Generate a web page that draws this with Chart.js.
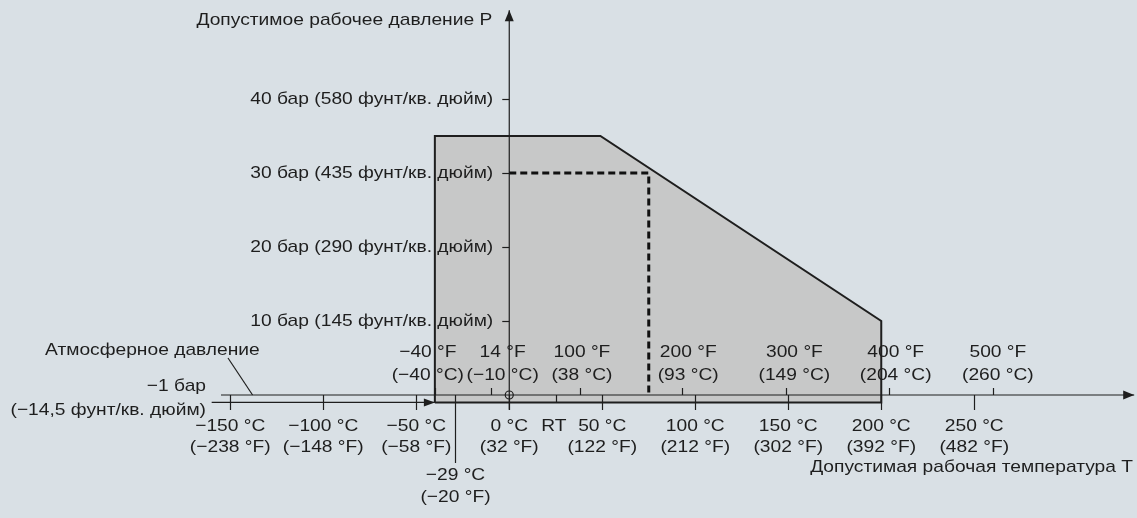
<!DOCTYPE html>
<html>
<head>
<meta charset="utf-8">
<script src="https://cdn.jsdelivr.net/npm/chart.js@4"></script>
<style>
  html, body { margin: 0; padding: 0; background: #d9e0e5; }
  canvas { display: block; }
</style>
</head>
<body>
<canvas id="chart" width="1137" height="518"></canvas>
<script>
// temperature ticks in degC (below axis)
const celsiusTicks = [-150, -100, -50, 0, 50, 100, 150, 200, 250]
const celsiusRow1 = ["\u2212150 \u00b0C", "\u2212100 \u00b0C", "\u221250 \u00b0C", "0 \u00b0C", "50 \u00b0C", "100 \u00b0C", "150 \u00b0C", "200 \u00b0C", "250 \u00b0C"]
const celsiusRow2 = ["(\u2212238 \u00b0F)", "(\u2212148 \u00b0F)", "(\u221258 \u00b0F)", "(32 \u00b0F)", "(122 \u00b0F)", "(212 \u00b0F)", "(302 \u00b0F)", "(392 \u00b0F)", "(482 \u00b0F)"]

// fahrenheit ticks, placed at their degC value (above axis)
const fahrenheitTicks = [-40, -10, 38, 93, 149, 204, 260]
const fahrenheitRow1 = ["\u221240 \u00b0F", "14 \u00b0F", "100 \u00b0F", "200 \u00b0F", "300 \u00b0F", "400 \u00b0F", "500 \u00b0F"]
const fahrenheitRow2 = ["(\u221240 \u00b0C)", "(\u221210 \u00b0C)", "(38 \u00b0C)", "(93 \u00b0C)", "(149 \u00b0C)", "(204 \u00b0C)", "(260 \u00b0C)"]

// pressure ticks in bar
const pressureTicks = [10, 20, 30, 40]
const pressureLabels = ["10 \u0431\u0430\u0440 (145 \u0444\u0443\u043d\u0442/\u043a\u0432. \u0434\u044e\u0439\u043c)", "20 \u0431\u0430\u0440 (290 \u0444\u0443\u043d\u0442/\u043a\u0432. \u0434\u044e\u0439\u043c)", "30 \u0431\u0430\u0440 (435 \u0444\u0443\u043d\u0442/\u043a\u0432. \u0434\u044e\u0439\u043c)", "40 \u0431\u0430\u0440 (580 \u0444\u0443\u043d\u0442/\u043a\u0432. \u0434\u044e\u0439\u043c)"]

// permitted operating envelope
const envelopeTemp = [-40, -40, 49, 200, 200, -40]
const envelopePress = [-1, 35, 35, 10, -1, -1]

// rated point (dashed)
const ratedTemp = [0, 75, 75]
const ratedPress = [30, 30, 0]

const minTemp = -29
const roomTemp = 25
const axisTemp = [-155, 336]
const axisPress = [-2, 52]
const vacuumTemp = [-160, -40]

const font = "17px 'Liberation Sans', Arial, sans-serif"
const stretch = 1.13
const ink = "#1e1e1e"
// label nudges (px) for the fahrenheit row so neighbours don't collide
const fahrenheitShift = [-7, 12, 2, 6, 8, 7, 5]

function pts(xs, ys) {
  return xs.map((x, i) => ({x: x, y: ys[i]}))
}

function label(ctx, text, x, y, align) {
  ctx.save()
  ctx.translate(x, y)
  ctx.scale(stretch, 1)
  ctx.textAlign = align
  ctx.fillText(text, 0, 0)
  ctx.restore()
}

const overlay = {
  id: "overlay",
  beforeDatasetsDraw(chart) {
    // envelope fill
    const ctx = chart.ctx
    const xs = chart.scales.x
    const ys = chart.scales.y
    ctx.save()
    ctx.fillStyle = "#c7c8c8"
    ctx.beginPath()
    envelopeTemp.forEach((t, i) => {
      const px = xs.getPixelForValue(t)
      const py = ys.getPixelForValue(envelopePress[i])
      if (i == 0) ctx.moveTo(px, py)
      else ctx.lineTo(px, py)
    })
    ctx.closePath()
    ctx.fill()
    ctx.restore()
  },
  afterDatasetsDraw(chart) {
    const ctx = chart.ctx
    const xs = chart.scales.x
    const ys = chart.scales.y
    const y0 = ys.getPixelForValue(0)
    const x0 = xs.getPixelForValue(0)
    ctx.save()
    ctx.strokeStyle = ink
    ctx.fillStyle = ink
    ctx.lineWidth = 1.2

    // degC ticks
    celsiusTicks.forEach(t => {
      const px = Math.round(xs.getPixelForValue(t)) + 0.5
      ctx.beginPath(); ctx.moveTo(px, y0); ctx.lineTo(px, y0 + 15); ctx.stroke()
    })
    // RT tick
    let rx = Math.round(xs.getPixelForValue(roomTemp)) + 0.5
    ctx.beginPath(); ctx.moveTo(rx, y0); ctx.lineTo(rx, y0 + 8); ctx.stroke()
    // degF ticks
    fahrenheitTicks.forEach(t => {
      const px = Math.round(xs.getPixelForValue(t)) + 0.5
      ctx.beginPath(); ctx.moveTo(px, y0); ctx.lineTo(px, y0 - 7); ctx.stroke()
    })
    // -29 marker
    let mx = Math.round(xs.getPixelForValue(minTemp)) + 0.5
    ctx.beginPath(); ctx.moveTo(mx, y0); ctx.lineTo(mx, y0 + 68); ctx.stroke()
    // pressure ticks
    pressureTicks.forEach(p => {
      const py = Math.round(ys.getPixelForValue(p)) + 0.5
      ctx.beginPath(); ctx.moveTo(x0 - 7, py); ctx.lineTo(x0, py); ctx.stroke()
    })
    // origin circle
    ctx.beginPath(); ctx.arc(x0, y0, 4, 0, Math.PI * 2); ctx.stroke()

    // arrow heads
    const ax = xs.getPixelForValue(axisTemp[1])
    ctx.beginPath(); ctx.moveTo(ax, y0); ctx.lineTo(ax - 11, y0 - 4.5); ctx.lineTo(ax - 11, y0 + 4.5); ctx.closePath(); ctx.fill()
    const ay = ys.getPixelForValue(axisPress[1])
    ctx.beginPath(); ctx.moveTo(x0, ay); ctx.lineTo(x0 - 4.5, ay + 11); ctx.lineTo(x0 + 4.5, ay + 11); ctx.closePath(); ctx.fill()
    const vx = xs.getPixelForValue(vacuumTemp[1])
    const vy = ys.getPixelForValue(-1)
    ctx.beginPath(); ctx.moveTo(vx, vy); ctx.lineTo(vx - 11, vy - 4); ctx.lineTo(vx - 11, vy + 4); ctx.closePath(); ctx.fill()

    // pointer for atmospheric pressure
    ctx.beginPath(); ctx.moveTo(228, 358); ctx.lineTo(xs.getPixelForValue(-138), y0); ctx.stroke()

    // text
    ctx.font = font
    ctx.textBaseline = "middle"
    celsiusTicks.forEach((t, i) => {
      const px = xs.getPixelForValue(t)
      label(ctx, celsiusRow1[i], px, y0 + 31, "center")
      label(ctx, celsiusRow2[i], px, y0 + 52, "center")
    })
    label(ctx, "RT", xs.getPixelForValue(roomTemp) - 2, y0 + 31, "center")
    fahrenheitTicks.forEach((t, i) => {
      const px = xs.getPixelForValue(t) + fahrenheitShift[i]
      label(ctx, fahrenheitRow1[i], px, y0 - 43, "center")
      label(ctx, fahrenheitRow2[i], px, y0 - 20, "center")
    })
    label(ctx, "\u221229 \u00b0C", mx, y0 + 80, "center")
    label(ctx, "(\u221220 \u00b0F)", mx, y0 + 102, "center")

    pressureTicks.forEach((p, i) => {
      label(ctx, pressureLabels[i], x0 - 16, ys.getPixelForValue(p), "right")
    })
    label(ctx, "\u0414\u043e\u043f\u0443\u0441\u0442\u0438\u043c\u043e\u0435 \u0440\u0430\u0431\u043e\u0447\u0435\u0435 \u0434\u0430\u0432\u043b\u0435\u043d\u0438\u0435 \u0420", x0 - 17, 20, "right")
    label(ctx, "\u0414\u043e\u043f\u0443\u0441\u0442\u0438\u043c\u0430\u044f \u0440\u0430\u0431\u043e\u0447\u0430\u044f \u0442\u0435\u043c\u043f\u0435\u0440\u0430\u0442\u0443\u0440\u0430 T", 1133, 467, "right")
    label(ctx, "\u22121 \u0431\u0430\u0440", 206, y0 - 9, "right")
    label(ctx, "(\u221214,5 \u0444\u0443\u043d\u0442/\u043a\u0432. \u0434\u044e\u0439\u043c)", 206, y0 + 15, "right")
    label(ctx, "\u0410\u0442\u043c\u043e\u0441\u0444\u0435\u0440\u043d\u043e\u0435 \u0434\u0430\u0432\u043b\u0435\u043d\u0438\u0435", 45, 350, "left")
    ctx.restore()
  }
}

const lineStyle = {showLine: true, pointRadius: 0, tension: 0, fill: false}

new Chart(document.getElementById("chart"), {
  type: "scatter",
  data: {
    datasets: [
      Object.assign({}, lineStyle, {
        data: pts(envelopeTemp, envelopePress),
        borderColor: ink,
        borderWidth: 2
      }),
      Object.assign({}, lineStyle, {
        data: pts(ratedTemp, ratedPress),
        borderColor: "#111",
        borderWidth: 3,
        borderDash: [7, 4]
      }),
      Object.assign({}, lineStyle, {
        data: pts(axisTemp, [0, 0]),
        borderColor: ink,
        borderWidth: 1.2
      }),
      Object.assign({}, lineStyle, {
        data: pts(vacuumTemp, [-1, -1]),
        borderColor: ink,
        borderWidth: 1.2
      }),
      Object.assign({}, lineStyle, {
        data: pts([0, 0], axisPress),
        borderColor: ink,
        borderWidth: 1.2
      })
    ]
  },
  options: {
    responsive: false,
    animation: false,
    devicePixelRatio: 1,
    layout: {padding: 0},
    plugins: {legend: {display: false}, tooltip: {enabled: false}},
    scales: {
      x: {type: "linear", display: false, min: -273.8, max: 337.5},
      y: {type: "linear", display: false, min: -16.62, max: 53.38}
    }
  },
  plugins: [overlay]
})
</script>
</body>
</html>
